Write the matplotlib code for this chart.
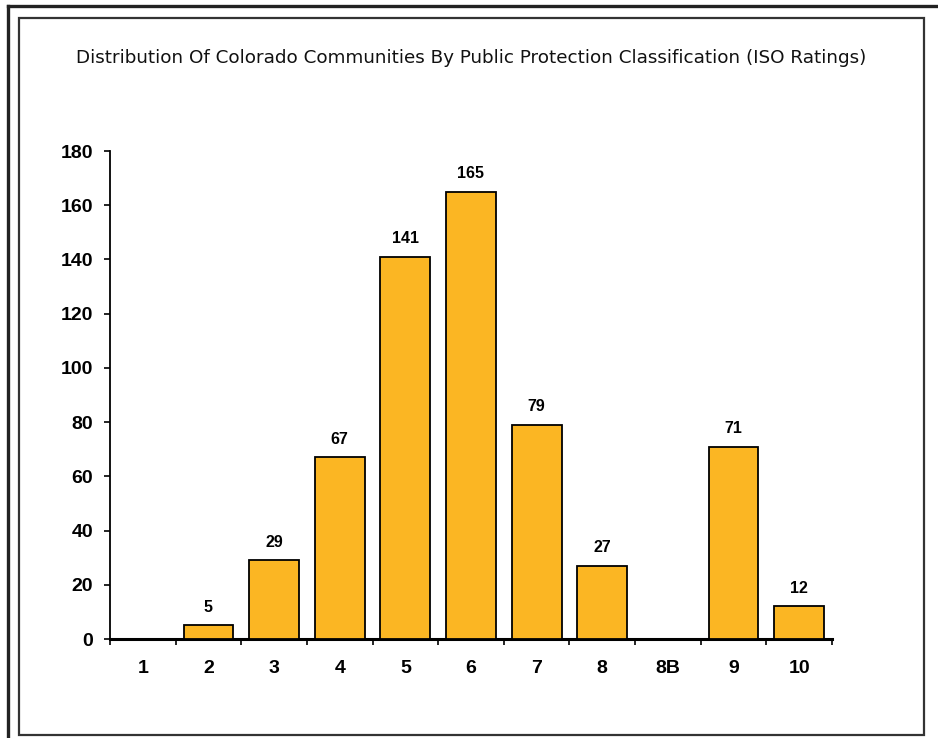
import matplotlib
matplotlib.use("Agg")
import matplotlib.pyplot as plt
from matplotlib.patches import Rectangle
from matplotlib.lines import Line2D
import numpy as np

categories = ["1", "2", "3", "4", "5", "6", "7", "8", "8B", "9", "10"]
values = [0, 5, 29, 67, 141, 165, 79, 27, 0, 71, 12]
title = "Distribution Of Colorado Communities By Public Protection Classification (ISO Ratings)"

W, H = 938, 738
fig = plt.figure(figsize=(W / 100, H / 100), dpi=100)
fig.patch.set_facecolor("white")

# frames
fig.add_artist(Line2D([8 / W, 8 / W], [0, 1 - 6 / H], transform=fig.transFigure, color="#222222", lw=2.4))
fig.add_artist(Line2D([8 / W, 1], [1 - 6 / H, 1 - 6 / H], transform=fig.transFigure, color="#222222", lw=2.4))
fig.add_artist(Rectangle((19 / W, 1 - 735 / H), (924 - 19) / W, (735 - 18) / H,
                         transform=fig.transFigure, fill=False, edgecolor="#333333", lw=1.6))

ax = fig.add_axes([110 / W, 1 - 639 / H, (832 - 110) / W, (639 - 151) / H])
x = np.arange(len(categories))
bars = ax.bar(x, values, width=0.76, color="#FBB623", edgecolor="black", linewidth=1.3, zorder=3)
for xi, v in zip(x, values):
    if v > 0:
        ax.text(xi, v + 4, str(v), ha="center", va="bottom", fontsize=11.5,
                fontweight="bold", family="Liberation Sans")

ax.set_xlim(-0.5, len(categories) - 0.5)
ax.set_ylim(0, 180)
ax.set_yticks(np.arange(0, 181, 20))
ax.set_xticks(np.arange(-0.5, len(categories), 1.0))
ax.set_xticklabels([])
ax.set_xticks(x, minor=True)
ax.set_xticklabels(categories, minor=True)
ax.tick_params(axis="x", which="major", direction="out", length=4, width=1.2)
ax.tick_params(axis="x", which="minor", length=0, pad=15)
ax.tick_params(axis="y", direction="out", length=4, width=1.2, pad=8)
for lab in ax.get_yticklabels() + ax.get_xticklabels(minor=True):
    lab.set_fontsize(14)
    lab.set_fontweight("bold")
    lab.set_family("Liberation Sans")

for s in ["top", "right"]:
    ax.spines[s].set_visible(False)
ax.spines["left"].set_linewidth(1.3)
ax.spines["bottom"].set_linewidth(2.2)

fig.text(471 / W, 1 - 58 / H, title, ha="center", va="center", fontsize=13.2,
         family="DejaVu Sans", color="#111111")

fig.savefig("out.png", dpi=100)
